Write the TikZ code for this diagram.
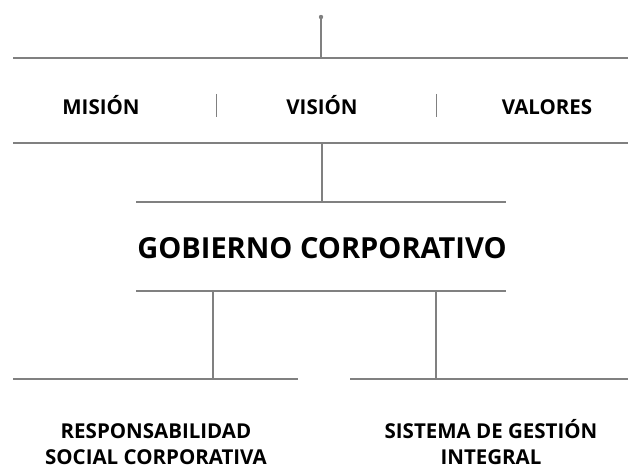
\documentclass[tikz,border=0pt]{standalone}
\usepackage{fontspec}
\setmainfont{Open Sans}
\begin{document}
\begin{tikzpicture}[x=1pt,y=-1pt,
  ln/.style={draw=black!50,line width=1.3pt},
  sep/.style={draw=black!50,line width=0.8pt},
  small/.style={font=\bfseries\fontsize{20.5}{22}\selectfont,inner sep=0pt,anchor=base},
  big/.style={font=\bfseries\fontsize{29}{36}\selectfont,inner sep=0pt,anchor=base},
  two/.style={font=\bfseries\fontsize{20.5}{26}\selectfont,inner sep=0pt,align=center,anchor=base}]
\useasboundingbox (0,0) rectangle (628,470);
% top
\coordinate (dot) at (321,17);
\coordinate (t1) at (13,58);
\coordinate (t2) at (628,58);
\coordinate (tm) at (321,58);
\fill[black!50] (dot) circle (2.2);
\draw[ln] (dot) -- (tm);
\draw[ln] (t1) -- (t2);
% labels row
\node[small] (mision) at (101,115) {MISIÓN};
\node[small] (vision) at (322,115) {VISIÓN};
\node[small] (valores) at (547,115) {VALORES};
\coordinate (s1a) at (216,94); \coordinate (s1b) at (216,117);
\coordinate (s2a) at (436,94); \coordinate (s2b) at (436,117);
\draw[sep] (s1a) -- (s1b);
\draw[sep] (s2a) -- (s2b);
% second line
\coordinate (m1) at (13,143);
\coordinate (m2) at (628,143);
\coordinate (mm) at (322,143);
\draw[ln] (m1) -- (m2);
\coordinate (g1) at (136,202);
\coordinate (g2) at (506,202);
\coordinate (gm) at (322,202);
\draw[ln] (mm) -- (gm);
\draw[ln] (g1) -- (g2);
\node[big] (gob) at (322,258) {GOBIERNO CORPORATIVO};
\coordinate (h1) at (136,291);
\coordinate (h2) at (506,291);
\coordinate (ha) at (213,291);
\coordinate (hb) at (436,291);
\draw[ln] (h1) -- (h2);
\coordinate (la) at (213,379);
\coordinate (lb) at (436,379);
\draw[ln] (ha) -- (la);
\draw[ln] (hb) -- (lb);
\coordinate (l1) at (13,379);
\coordinate (l2) at (298,379);
\coordinate (r1) at (350,379);
\coordinate (r2) at (628,379);
\draw[ln] (l1) -- (l2);
\draw[ln] (r1) -- (r2);
\node[two] (rsc) at (156,464) {RESPONSABILIDAD\\SOCIAL CORPORATIVA};
\node[two] (sgi) at (491,464) {SISTEMA DE GESTIÓN\\INTEGRAL};
\end{tikzpicture}
\end{document}
